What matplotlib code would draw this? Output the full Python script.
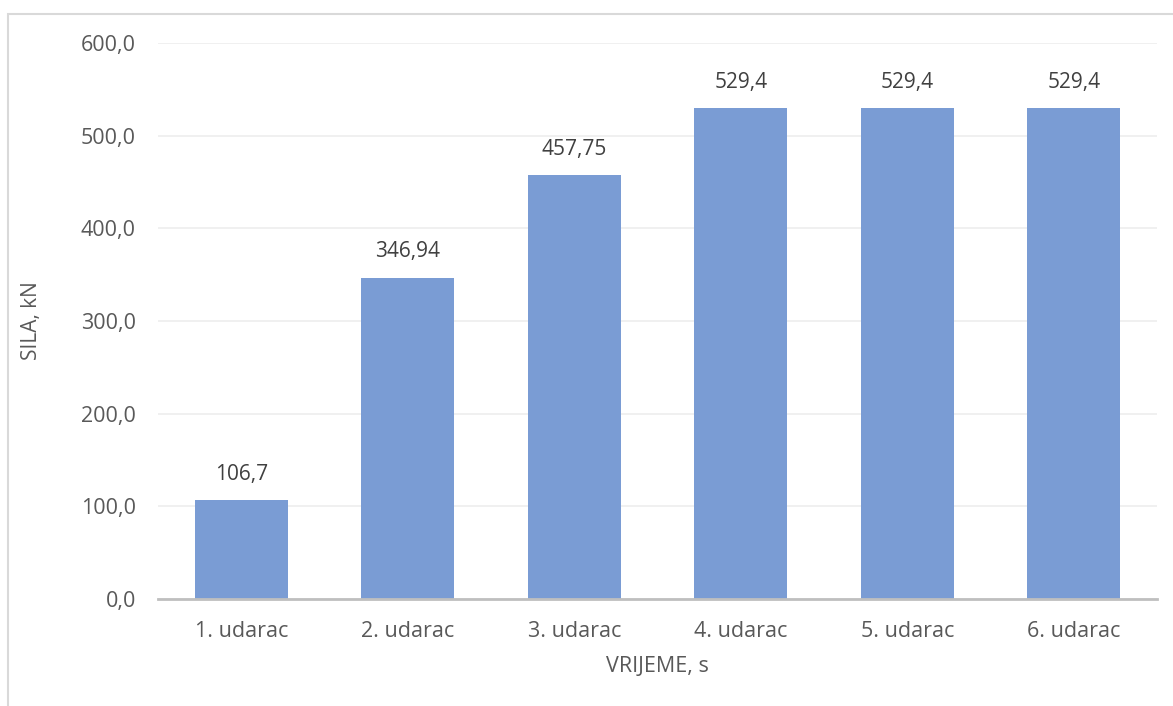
import matplotlib
matplotlib.use("Agg")
import matplotlib.pyplot as plt
from matplotlib.patches import Rectangle

categories = ["1. udarac", "2. udarac", "3. udarac", "4. udarac", "5. udarac", "6. udarac"]
values = [106.7, 346.94, 457.75, 529.4, 529.4, 529.4]
value_labels = ["106,7", "346,94", "457,75", "529,4", "529,4", "529,4"]
yticks = [0, 100, 200, 300, 400, 500, 600]

plt.rcParams['font.family'] = ['Open Sans', 'DejaVu Sans']
text_col = '#595959'

W, H = 1173, 706
fig = plt.figure(figsize=(W / 100, H / 100), dpi=100)
ax = fig.add_axes([158 / W, 1 - 599 / H, 999 / W, (599 - 43) / H])

x = range(len(categories))
ax.bar(x, values, width=0.56, color='#7A9CD4', zorder=3)
for i, v in enumerate(values):
    ax.annotate(value_labels[i], (i, v), xytext=(0, 11), textcoords='offset points',
                ha='center', va='bottom', fontsize=15, color='#404040')

ax.set_xlim(-0.5, len(categories) - 0.5)
ax.set_ylim(0, 600)
ax.set_yticks(yticks)
ax.set_yticklabels([f"{t:.1f}".replace('.', ',') for t in yticks])
ax.set_xticks(list(x))
ax.set_xticklabels(categories)
ax.tick_params(axis='both', length=0, labelsize=15.5, labelcolor=text_col)
ax.tick_params(axis='y', pad=16)
ax.tick_params(axis='x', pad=16)
ax.grid(axis='y', color='#EEEEEE', linewidth=1.2, zorder=0)
for s in ['top', 'right', 'left']:
    ax.spines[s].set_visible(False)
ax.spines['bottom'].set_color('#BFBFBF')
ax.spines['bottom'].set_linewidth(2)
ax.spines['bottom'].set_zorder(4)

ax.set_xlabel("VRIJEME, s", fontsize=15.5, color=text_col)
ax.xaxis.set_label_coords(0.5, -(666 - 599) / 556)
ax.set_ylabel("SILA, kN", fontsize=15, color=text_col)
ax.yaxis.set_label_coords(-(158 - 31) / 999, 0.5)
ax.xaxis.label.set_va('center')
ax.yaxis.label.set_va('center')

fig.patches.append(Rectangle((8 / W, -0.1), 1.2, 1 - 14 / H + 0.1, transform=fig.transFigure,
                             fill=False, edgecolor='#D9D9D9', linewidth=1.5))

fig.savefig("out.png", dpi=100)
